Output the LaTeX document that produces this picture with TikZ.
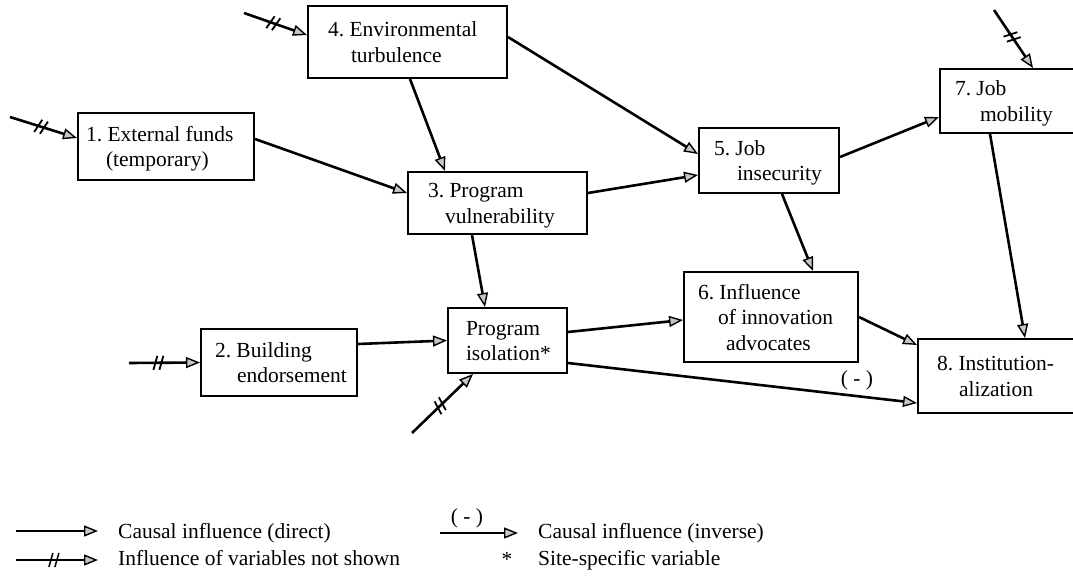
\documentclass[tikz,border=0pt]{standalone}
\usepackage{fontspec}
\setmainfont{Liberation Serif}
\usetikzlibrary{arrows.meta,decorations.markings}
\frenchspacing

% box text: fixed width, left padding, lines set in a tabular
\newcommand\boxlines[3]{\makebox[#1][l]{\hspace*{#2}\begin{tabular}{@{}l@{}}\rule{0pt}{23pt}#3\end{tabular}}}

\tikzset{
  varbox/.style={draw, line width=2pt, inner xsep=0pt, inner ysep=0pt,
    font=\fontsize{21.5}{25.5}\selectfont},
  tip/.style={-{Triangle[length=14pt,width=11pt,fill=gray!45,line width=1.4pt]}},
  cause/.style={line width=2.6pt, tip},
  notshown/.style={cause,
    decoration={markings, mark=at position #1 with
      {\draw[-,line width=1.8pt] (-4pt,-7pt) -- (0pt,7pt) (2pt,-7pt) -- (6pt,7pt);}},
    postaction={decorate}},
  notshown/.default=0.45,
  legarrow/.style={line width=1.8pt, tip},
  legnotshown/.style={legarrow,
    decoration={markings, mark=at position 0.45 with
      {\draw[-,line width=1.5pt] (-4pt,-7pt) -- (0pt,7pt) (2pt,-7pt) -- (6pt,7pt);}},
    postaction={decorate}},
  txt/.style={font=\fontsize{21.5}{25.5}\selectfont, inner sep=0pt},
}

\begin{document}
\begin{tikzpicture}[x=1pt,y=-1pt]
\useasboundingbox (0,0) rectangle (1073,578);
\fill[white] (0,0) rectangle (1073,578);

% variables
\node[varbox, minimum width=176pt, minimum height=67pt] (b1) at (166,146.5)
  {\boxlines{176pt}{8pt}{1. External funds\\\hspace*{20pt}(temporary)}};
\node[varbox, minimum width=199pt, minimum height=72pt] (b4) at (407.5,42)
  {\boxlines{199pt}{20pt}{4. Environmental\\\hspace*{23pt}turbulence}};
\node[varbox, minimum width=179pt, minimum height=62pt] (b3) at (497.5,203)
  {\boxlines{179pt}{20pt}{3. Program\\\hspace*{17pt}vulnerability}};
\node[varbox, minimum width=140pt, minimum height=65pt] (b5) at (769,160.5)
  {\boxlines{140pt}{15pt}{5. Job\\\hspace*{23pt}insecurity}};
\node[varbox, minimum width=136pt, minimum height=64pt] (b7) at (1008,101)
  {\boxlines{136pt}{15pt}{7. Job\\\hspace*{25pt}mobility}};
\node[varbox, minimum width=156pt, minimum height=67pt] (b2) at (279,362.5)
  {\boxlines{156pt}{14pt}{2. Building\\\hspace*{22pt}endorsement}};
\node[varbox, minimum width=119pt, minimum height=65pt] (pi) at (507.5,340.5)
  {\boxlines{119pt}{18pt}{Program\\isolation*}};
\node[varbox, minimum width=174pt, minimum height=90pt] (b6) at (771,317)
  {\boxlines{174pt}{14pt}{6. Influence\\\hspace*{20pt}of innovation\\\hspace*{28pt}advocates}};
\node[varbox, minimum width=158pt, minimum height=74pt] (b8) at (997,376)
  {\boxlines{158pt}{19pt}{8. Institution-\\\hspace*{22pt}alization}};

% causal links
\draw[cause] ([yshift=7.5pt]b1.east) -- ([yshift=10pt]b3.west);
\draw[cause] ([xshift=2.5pt]b4.south) -- ([xshift=-52.5pt]b3.north);
\draw[cause] ([yshift=5pt]b4.east) -- ([yshift=6.5pt]b5.west);
\draw[cause] ([yshift=10pt]b3.east) -- ([yshift=-14.5pt]b5.west);
\draw[cause] ([yshift=3.5pt]b5.east) -- ([yshift=-16pt]b7.west);
\draw[cause] ([xshift=-25.5pt]b3.south) -- ([xshift=-22.5pt]pi.north);
\draw[cause] ([xshift=13pt]b5.south) -- ([xshift=42pt]b6.north);
\draw[cause] ([xshift=-18pt]b7.south) -- ([xshift=28pt]b8.north);
\draw[cause] (b6.east) -- ([yshift=31pt]b8.west);
\draw[cause] ([yshift=18.5pt]b2.east) -- (pi.west);
\draw[cause] ([yshift=8.5pt]pi.east) -- ([yshift=-3pt]b6.west);
\draw[cause] ([yshift=-22.5pt]pi.east) -- ([yshift=-27pt]b8.west);
\node[txt] (neg) at (857,380) {( - )};

% influences of variables not shown
\coordinate (in4) at (244,13);
\coordinate (in1) at (10,117);
\coordinate (in7) at (994,10);
\coordinate (in2) at (129,363);
\coordinate (inpi) at (412,433);
\draw[notshown] (in4) -- ([yshift=7pt]b4.west);
\draw[notshown] (in1) -- ([yshift=8.5pt]b1.west);
\draw[notshown] (in7) -- ([xshift=25pt]b7.north);
\draw[notshown=0.4] (in2) -- (b2.west);
\draw[notshown] (inpi) -- ([xshift=-34.5pt]pi.south);

% legend
\coordinate (la1) at (16,531);
\coordinate (la2) at (98,531);
\coordinate (lb1) at (16,560);
\coordinate (lb2) at (98,560);
\coordinate (lc1) at (440,533);
\coordinate (lc2) at (518,533);
\draw[legarrow] (la1) -- (la2);
\draw[legnotshown] (lb1) -- (lb2);
\draw[legarrow] (lc1) -- (lc2);
\node[txt, anchor=base west] (ltx1) at (118,538) {Causal influence (direct)};
\node[txt, anchor=base west] (ltx2) at (118,565) {Influence of variables not shown};
\node[txt] (lneg) at (467,518) {( - )};
\node[txt, anchor=base west] (ltx3) at (538,538) {Causal influence (inverse)};
\node[txt] (lstar) at (507,559) {*};
\node[txt, anchor=base west] (ltx4) at (538,565) {Site-specific variable};
\end{tikzpicture}
\end{document}
